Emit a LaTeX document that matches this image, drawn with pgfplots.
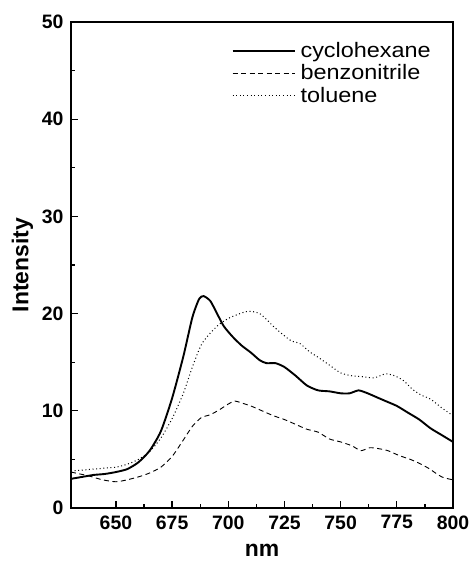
\documentclass[border=0pt]{standalone}
\usepackage{fontspec}
\setmainfont{Liberation Sans}
\newfontfamily\legendfont[FakeStretch=1.12]{Liberation Sans}
\usepackage{pgfplots}
\pgfplotsset{compat=1.18}

\begin{document}
\begin{tikzpicture}
\begin{axis}[
  scale only axis,
  width=382bp, height=486bp,
  xmin=630, xmax=800,
  ymin=0, ymax=50,
  xtick={650,675,...,800},
  ytick={0,10,...,50},
  minor tick num=1,
  tick pos=left,
  tick align=inside,
  major tick length=7bp,
  minor tick length=4bp,
  axis line style={line width=1.6bp},
  every tick/.style={line width=1.3bp, black},
  /pgf/number format/assume math mode=true,
  ticklabel style={font=\bfseries\fontsize{19.5}{22}\selectfont},
  xticklabel style={yshift=-4bp},
  yticklabel style={xshift=-4bp},
  xlabel={nm},
  ylabel={Intensity},
  label style={font=\bfseries\fontsize{23}{26}\selectfont},
  xlabel style={yshift=-8bp},
  ylabel style={yshift=2bp},
  legend cell align=left,
  legend style={draw=none, fill=none, at={(0.42,0.962)}, anchor=north west,
    font=\legendfont\fontsize{21}{24}\selectfont, row sep=1.5bp,
    column sep=3bp, inner sep=0bp},
  legend image code/.code={\draw[#1] (0bp,0bp) -- (62bp,0bp);},
]
% cyclohexane
\addplot[black, line width=1.9bp, smooth, tension=0.4] coordinates {
(630,3.0) (635,3.2) (640,3.4) (645,3.5) (650,3.7) (655,4.0) (660,4.7)
(665,5.9) (670,7.9) (675,11.3) (680,15.6) (684,19.6) (687,21.5) (689,21.8)
(692,21.3) (695,20.0) (698,18.7) (702,17.6) (706,16.7) (710,16.0) (714,15.2)
(717,14.9) (721,14.9) (725,14.5) (730,13.6) (735,12.6) (740,12.1) (745,12.0)
(750,11.8) (754,11.8) (758,12.1) (762,11.8) (766,11.4) (770,11.0) (775,10.5)
(780,9.8) (785,9.1) (790,8.2) (795,7.5) (800,6.8)
};
\addlegendentry{cyclohexane}
% benzonitrile
\addplot[black, line width=0.9bp, dash pattern=on 5bp off 3.5bp, smooth, tension=0.4] coordinates {
(630,3.7) (634,3.5) (638,3.3) (644,2.9) (650,2.7) (655,2.9) (660,3.2)
(665,3.6) (670,4.2) (675,5.3) (680,7.0) (684,8.4) (688,9.3) (692,9.6)
(696,10.1) (700,10.7) (703,11.0) (706,10.8) (710,10.5) (715,10.0) (720,9.5)
(725,9.1) (730,8.6) (735,8.1) (740,7.8) (745,7.1) (750,6.8) (755,6.4)
(759,5.9) (763,6.2) (767,6.1) (771,5.9) (776,5.4) (781,5.0) (785,4.6)
(789,4.1) (795,3.2) (800,2.9)
};
\addlegendentry{benzonitrile}
% toluene
\addplot[black, line width=1.0bp, dash pattern=on 1bp off 2.6bp, smooth, tension=0.4] coordinates {
(630,3.8) (635,3.9) (640,4.0) (645,4.1) (650,4.2) (655,4.5) (660,5.0)
(665,5.8) (670,7.2) (675,9.2) (680,11.8) (684,14.5) (688,16.8) (692,18.0)
(696,18.9) (700,19.5) (704,19.9) (708,20.2) (711,20.2) (714,20.0) (717,19.4)
(720,18.7) (724,17.9) (728,17.2) (732,16.9) (736,16.1) (740,15.5) (745,14.7)
(750,13.9) (755,13.6) (760,13.5) (765,13.4) (770,13.8) (774,13.6) (778,13.1)
(782,12.2) (786,11.6) (790,11.2) (795,10.3) (800,9.5)
};
\addlegendentry{toluene}
\end{axis}
\pgfresetboundingbox
\path (current axis.south west) ++(-71bp,-61bp) rectangle ([shift={(21bp,22bp)}]current axis.north east);
\end{tikzpicture}
\end{document}
